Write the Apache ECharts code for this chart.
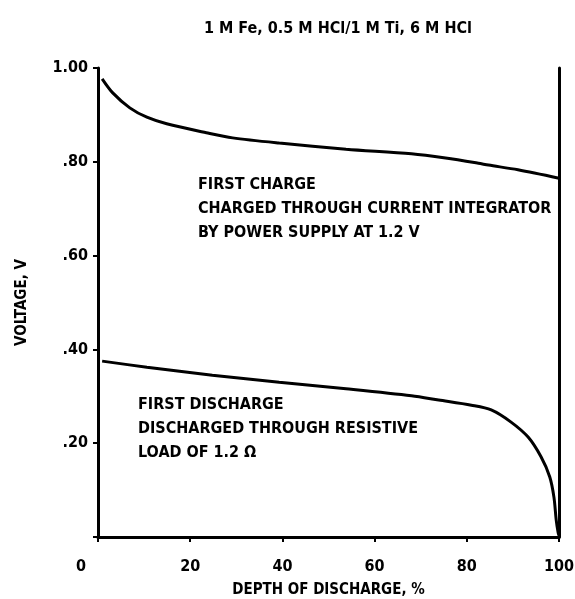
<!DOCTYPE html>
<html>
<head>
<meta charset="utf-8">
<script src="https://cdn.jsdelivr.net/npm/echarts@6/dist/echarts.min.js"></script>
<style>
html,body{margin:0;padding:0;background:#fff;}
#myChart{width:575px;height:599px;}
</style>
</head>
<body>
<div id="myChart"></div>
<script>
// depth of discharge (%) and voltage (V)
var chargeX = [0.9, 3.2, 6.9, 10.6, 14.9, 23.5, 29.2, 39.3, 53.8, 68, 75.4, 82.5, 84.7, 91.1, 100];
var chargeV = [0.977, 0.947, 0.915, 0.895, 0.881, 0.862, 0.851, 0.840, 0.827, 0.817, 0.808, 0.797, 0.793, 0.783, 0.765];
var dischargeX = [0.9, 10.6, 24.8, 39.3, 53.8, 68, 73.9, 81, 85.3, 89.6, 93.3, 96.1, 98, 98.9, 99.4, 99.8, 100];
var dischargeV = [0.375, 0.362, 0.345, 0.330, 0.316, 0.301, 0.292, 0.281, 0.271, 0.245, 0.213, 0.171, 0.128, 0.085, 0.036, 0.010, 0.003];
var xTicks = [0, 20, 40, 60, 80, 100];
var yTickLabels = {'0.2': '.20', '0.4': '.40', '0.6': '.60', '0.8': '.80', '1': '1.00'};

var FONT = '"Liberation Sans Narrow", "DejaVu Sans Condensed", sans-serif';

function pairs(xs, ys) {
	var out = [];
	for (var i = 0; i < xs.length; i++) out.push([xs[i], ys[i]]);
	return out;
}

var chartDom = document.getElementById('myChart');
var myChart = echarts.init(chartDom, null, {renderer: 'canvas'});

var lineStyle = {color: '#000', width: 3};
var textStyle = {fill: '#000', font: 'bold 16px ' + FONT, lineHeight: 24};

var option = {
	backgroundColor: '#fff',
	animation: false,
	title: {
		text: '1 M Fe, 0.5 M HCl/1 M Ti, 6 M HCl',
		left: 199,
		top: 16,
		textStyle: {fontFamily: FONT, fontWeight: 'bold', fontSize: 16, color: '#000'}
	},
	grid: {left: 98, right: 16, top: 68, bottom: 62, outerBoundsMode: 'none'},
	xAxis: {
		type: 'value',
		min: 0,
		max: 100,
		interval: 20,
		name: 'DEPTH OF DISCHARGE, %',
		nameLocation: 'middle',
		nameGap: 46,
		nameTextStyle: {fontFamily: FONT, fontWeight: 'bold', fontSize: 15, color: '#000'},
		axisLine: {lineStyle: {color: '#000', width: 3}},
		axisTick: {length: 5, lineStyle: {color: '#000', width: 2}},
		splitLine: {show: false},
		axisLabel: {
			margin: 22,
			fontFamily: FONT, fontWeight: 'bold', fontSize: 16, color: '#000',
			formatter: function (v) {
				return v === 0 ? '{z|0}' : String(v);
			},
			rich: {z: {fontFamily: FONT, fontWeight: 'bold', fontSize: 16, color: '#000', padding: [0, 34, 0, 0]}}
		}
	},
	yAxis: [{
		type: 'value',
		min: 0,
		max: 1,
		interval: 0.2,
		name: 'VOLTAGE, V',
		nameLocation: 'middle',
		nameGap: 68,
		nameTextStyle: {fontFamily: FONT, fontWeight: 'bold', fontSize: 15, color: '#000'},
		axisLine: {show: true, lineStyle: {color: '#000', width: 3}},
		axisTick: {show: true, length: 5, lineStyle: {color: '#000', width: 2}},
		splitLine: {show: false},
		axisLabel: {
			margin: 10,
			fontFamily: FONT, fontWeight: 'bold', fontSize: 16, color: '#000',
			formatter: function (v) {
				return yTickLabels[String(Math.round(v * 10) / 10)] || '';
			}
		}
	}, {
		type: 'value',
		position: 'right',
		min: 0,
		max: 1,
		axisLine: {show: true, lineStyle: {color: '#000', width: 3}},
		axisTick: {show: false},
		axisLabel: {show: false},
		splitLine: {show: false}
	}],
	graphic: [{
		type: 'text',
		left: 198,
		top: 173,
		style: Object.assign({text: 'FIRST CHARGE\nCHARGED THROUGH CURRENT INTEGRATOR\nBY POWER SUPPLY AT 1.2 V'}, textStyle)
	}, {
		type: 'text',
		left: 138,
		top: 393,
		style: Object.assign({text: 'FIRST DISCHARGE\nDISCHARGED THROUGH RESISTIVE\nLOAD OF 1.2 \u03a9'}, textStyle)
	}],
	series: [{
		name: 'First charge',
		type: 'line',
		data: pairs(chargeX, chargeV),
		showSymbol: false,
		smooth: 0.3,
		lineStyle: lineStyle
	}, {
		name: 'First discharge',
		type: 'line',
		data: pairs(dischargeX, dischargeV),
		showSymbol: false,
		smooth: 0.3,
		lineStyle: lineStyle
	}]
};

myChart.setOption(option);
</script>
</body>
</html>
